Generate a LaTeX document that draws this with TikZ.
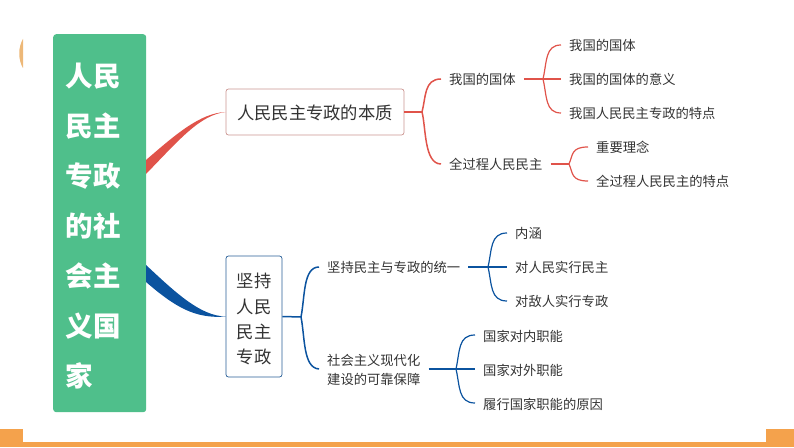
\documentclass[tikz,border=0pt]{standalone}
\usepackage{fontspec}
\setmainfont{Noto Sans CJK SC}
\definecolor{titlegreen}{HTML}{4FBF8B}
\definecolor{barorange}{HTML}{F4A24C}
\definecolor{moonorange}{HTML}{EDB878}
\definecolor{redline}{HTML}{E0534A}
\definecolor{blueline}{HTML}{0B539F}
\definecolor{textgrey}{HTML}{333333}
\begin{document}
\begin{tikzpicture}[x=1pt, y=1pt,
            every node/.style = {text=textgrey, inner sep=0pt},
            leaf/.style = {anchor=west, inner xsep=8pt, align=left,
                           font=\fontsize{13.3}{19}\selectfont},
            oneline/.style = {leaf, text height=13pt, text depth=1pt},
            mainbox/.style = {rectangle, rounded corners=2.5pt, draw, fill=white, align=center,
                              line width=0.7pt, font=\fontsize{17.3}{25.4}\selectfont}]
    \useasboundingbox (0,0) rectangle (794,447);
    % page decoration
    \fill[barorange] (0,0) rectangle (794,5);
    \fill[barorange] (0,0) rectangle (23,18);
    \fill[barorange] (766,0) rectangle (794,18);
    \fill[moonorange] (23,408) .. controls (18,400) and (18,387) .. (23,379) -- cycle;

    % title and the two main boxes
    \node[rectangle, rounded corners=3pt, fill=titlegreen, text=white, anchor=north west,
          minimum height=378pt, inner xsep=12.5pt, text width=68pt, align=left,
          font=\fontsize{27.5}{50}\selectfont\bfseries]
          (title) at (53,413) {\rule{0pt}{30pt}人民\\民主\\专政\\的社\\会主\\义国\\家};
    \node[mainbox, draw=redline!55!gray!70, minimum width=178pt, minimum height=46pt,
          text height=16pt, text depth=0pt]
          (essence) at (315,335) {人民民主专政的本质};
    \node[mainbox, draw=blueline!75!gray, minimum width=56pt, minimum height=121pt]
          (uphold) at (254,130.5) {\rule{0pt}{20pt}坚持\\人民\\民主\\专政};

    % ribbons
    \coordinate (redtop) at (146,287);
    \coordinate (redbot) at (146,273);
    \coordinate (bluetop) at (146,182);
    \coordinate (bluebot) at (146,165);
    \fill[redline] (redtop) .. controls (175,312) and (200,334) .. (essence.west)
        .. controls (200,332) and (180,308) .. (redbot) -- cycle;
    \fill[blueline] (bluetop) .. controls (175,155) and (200,131) .. (uphold.west)
        .. controls (195,128) and (175,140) .. (bluebot) -- cycle;

    % red side
    \node[oneline] (state) at (441,368) {我国的国体};
    \node[oneline] (whole) at (441,283) {全过程人民民主};
    \node[oneline] (s1) at (561,402) {我国的国体};
    \node[oneline] (s2) at (561,368) {我国的国体的意义};
    \node[oneline] (s3) at (561,334) {我国人民民主专政的特点};
    \node[oneline] (w1) at (588,300) {重要理念};
    \node[oneline] (w2) at (588,266) {全过程人民民主的特点};
    \coordinate (forka) at (422,335);
    \coordinate (forkb) at (543,368);
    \coordinate (forkc) at (569,283);
    \draw[redline, line width=1.5pt] (essence.east) -- (forka);
    \draw[redline, line width=1.5pt] (forka) .. controls (426,350) and (424,368) .. (state.west);
    \draw[redline, line width=1.5pt] (forka) .. controls (426,320) and (424,283) .. (whole.west);
    \draw[redline, line width=1.6pt] (state.east) -- (s2.west);
    \draw[redline, line width=1.2pt] (forkb) .. controls (547,385) and (545,402) .. (s1.west);
    \draw[redline, line width=1.2pt] (forkb) .. controls (547,351) and (545,334) .. (s3.west);
    \draw[redline, line width=1.6pt] (whole.east) -- (forkc);
    \draw[redline, line width=1.2pt] (forkc) .. controls (573,292) and (571,300) .. (w1.west);
    \draw[redline, line width=1.2pt] (forkc) .. controls (573,274) and (571,266) .. (w2.west);

    % blue side
    \node[oneline] (unity) at (319,180) {坚持民主与专政的统一};
    \node[leaf] (guard) at (319,77) {社会主义现代化\\建设的可靠保障};
    \node[oneline] (u1) at (507,214) {内涵};
    \node[oneline] (u2) at (507,180) {对人民实行民主};
    \node[oneline] (u3) at (507,146) {对敌人实行专政};
    \node[oneline] (g1) at (475,112) {国家对内职能};
    \node[oneline] (g2) at (475,78) {国家对外职能};
    \node[oneline] (g3) at (475,44) {履行国家职能的原因};
    \coordinate (forkd) at (301,130);
    \coordinate (forke) at (488,180);
    \coordinate (forkf) at (456,78);
    \draw[blueline, line width=1.5pt] (uphold.east) -- (forkd);
    \draw[blueline, line width=1.5pt] (forkd) .. controls (305,150) and (303,180) .. (unity.west);
    \draw[blueline, line width=1.5pt] (forkd) .. controls (305,110) and (303,79) .. (guard.west |- forkf);
    \draw[blueline, line width=1.6pt] (unity.east) -- (u2.west);
    \draw[blueline, line width=1.2pt] (forke) .. controls (492,197) and (490,214) .. (u1.west);
    \draw[blueline, line width=1.2pt] (forke) .. controls (492,163) and (490,146) .. (u3.west);
    \draw[blueline, line width=1.6pt] (guard.east |- forkf) -- (g2.west);
    \draw[blueline, line width=1.2pt] (forkf) .. controls (460,96) and (458,112) .. (g1.west);
    \draw[blueline, line width=1.2pt] (forkf) .. controls (460,61) and (458,44) .. (g3.west);
\end{tikzpicture}
\end{document}
